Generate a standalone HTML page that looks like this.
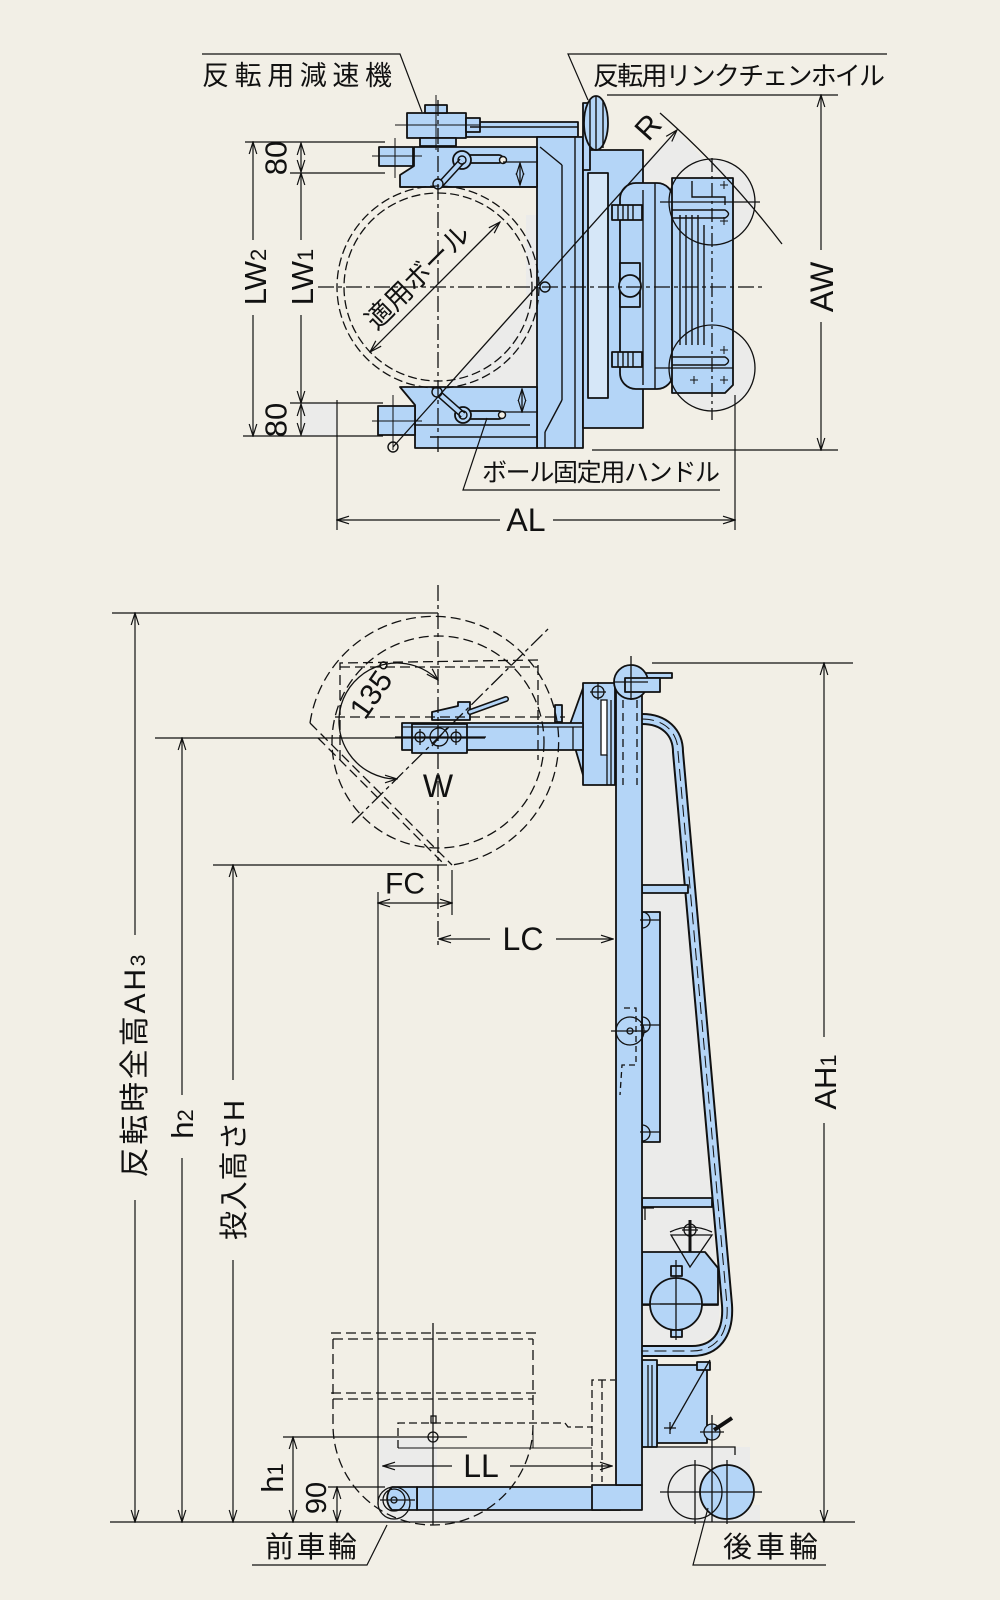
<!DOCTYPE html>
<html><head><meta charset="utf-8">
<style>
html,body{margin:0;padding:0;background:#f2efe6;}
svg{display:block;}
text{font-family:"Liberation Sans","Noto Sans CJK JP",sans-serif;fill:#111;}
.j{font-family:"Liberation Sans","Noto Sans CJK JP",sans-serif;}
</style></head><body>
<svg width="1000" height="1600" viewBox="0 0 1000 1600" xmlns="http://www.w3.org/2000/svg">
<defs>
<marker id="a" markerUnits="userSpaceOnUse" markerWidth="14" markerHeight="10" refX="13" refY="5" orient="auto-start-reverse"><path d="M1,1.2 L13,5 L1,8.8" fill="none" stroke="#111" stroke-width="1.2"/></marker>
</defs>
<rect width="1000" height="1600" fill="#f2efe6"/>

<!-- ============ TOP VIEW ============ -->
<g fill="#ebebea" stroke="none">
<polygon points="447,387 537,387 537,286"/>
<rect x="526" y="215" width="11" height="80"/>
<polygon points="627,180 677,130 724,180"/>
<circle cx="712" cy="202" r="43"/>
<circle cx="712" cy="368" r="43"/>
<rect x="302" y="403" width="35" height="33"/>
</g>

<g fill="#b4d5f7" stroke="#111" stroke-width="1.8" stroke-linejoin="round">
<rect x="466" y="122" width="112" height="15"/>
<rect x="537" y="137" width="46" height="311"/>
<rect x="583" y="150" width="60" height="278"/>
<rect x="620" y="183" width="53" height="206" rx="16"/>
<polygon points="672,178 733,178 733,385 725,393 672,393"/>
<polygon points="400,187 400,175 414,166 414,147 537,147 537,187"/>
<polygon points="400,387 537,387 537,448 415,448 415,405"/>
<rect x="407" y="113" width="59" height="25"/>
<rect x="425" y="105" width="22" height="8"/>
<rect x="420" y="138" width="36" height="8"/>
<rect x="466" y="118" width="14" height="14"/>
<rect x="379" y="147" width="34" height="19"/>
<rect x="378" y="406" width="37" height="29"/>
<rect x="583" y="103" width="7" height="67"/>
<ellipse cx="596" cy="123" rx="12" ry="27"/>
<rect x="588" y="173" width="20" height="225" fill="#d6e7f8"/>
<rect x="612" y="205" width="30" height="15"/>
<rect x="612" y="352" width="30" height="15"/>
<rect x="620" y="263" width="20" height="44"/>
<circle cx="630" cy="286" r="11"/>
<rect x="462" y="155" width="41" height="8" rx="4"/>
<rect x="463" y="411" width="40" height="8" rx="4"/>
<circle cx="462" cy="160" r="9"/>
<circle cx="463" cy="415" r="8"/>
</g>
<g fill="none" stroke="#111" stroke-width="1.4">
<line x1="540" y1="147" x2="562" y2="165"/>
<line x1="562" y1="165" x2="562" y2="400"/>
<line x1="562" y1="400" x2="545" y2="432"/>
<line x1="545" y1="432" x2="545" y2="448"/>
<line x1="575" y1="137" x2="575" y2="448"/>
<line x1="400" y1="187" x2="537" y2="187"/>
<line x1="414" y1="425" x2="530" y2="425"/>
<line x1="430" y1="437" x2="537" y2="437"/>
<line x1="470" y1="127" x2="578" y2="127"/>
<line x1="596" y1="96" x2="596" y2="150"/>
<line x1="590" y1="100" x2="590" y2="148"/>
<line x1="603" y1="100" x2="603" y2="148"/>
<line x1="643" y1="190" x2="643" y2="385"/>
<line x1="655" y1="183" x2="655" y2="389"/>
<line x1="680" y1="215" x2="680" y2="345"/>
<line x1="686" y1="215" x2="686" y2="345"/>
<line x1="692" y1="215" x2="692" y2="345"/>
<line x1="698" y1="215" x2="698" y2="345"/>
<line x1="704" y1="225" x2="704" y2="345"/>
<path d="M672,210 L725,210 Q732,214 725,218 L672,218"/>
<path d="M672,357 L725,357 Q732,361 725,365 L672,365"/>
<path d="M692,181 L692,197 L725,197 L725,205"/>
<line x1="618" y1="205" x2="618" y2="220"/><line x1="623" y1="205" x2="623" y2="220"/><line x1="628" y1="205" x2="628" y2="220"/><line x1="633" y1="205" x2="633" y2="220"/>
<line x1="618" y1="352" x2="618" y2="367"/><line x1="623" y1="352" x2="623" y2="367"/><line x1="628" y1="352" x2="628" y2="367"/><line x1="633" y1="352" x2="633" y2="367"/>
<line x1="440" y1="185" x2="462" y2="161" stroke-width="7"/>
<line x1="440" y1="185" x2="462" y2="161" stroke="#b4d5f7" stroke-width="4"/>
<line x1="437" y1="392" x2="463" y2="415" stroke-width="7"/>
<line x1="437" y1="392" x2="463" y2="415" stroke="#b4d5f7" stroke-width="4"/>
<circle cx="438" cy="184" r="5" fill="#b4d5f7"/>
<circle cx="437" cy="392" r="5" fill="#b4d5f7"/>
<circle cx="503" cy="160" r="3.5" fill="#f2efe6"/>
<circle cx="502" cy="415" r="3.5" fill="#f2efe6"/>
<circle cx="462" cy="160" r="4"/>
<circle cx="463" cy="415" r="4"/>
<circle cx="393" cy="447" r="5"/>
<circle cx="545" cy="287" r="5"/>
<line x1="395" y1="138" x2="395" y2="178" stroke-width="1"/>
<line x1="372" y1="156" x2="422" y2="156" stroke-width="1"/>
<line x1="393" y1="395" x2="393" y2="450" stroke-width="1"/>
<line x1="372" y1="421" x2="422" y2="421" stroke-width="1"/>
<line x1="436" y1="95" x2="436" y2="150" stroke-width="1"/>
<line x1="395" y1="125" x2="480" y2="125" stroke-width="1"/>
</g>

<g fill="none" stroke="#111" stroke-width="1.3">
<circle cx="712" cy="202" r="43"/>
<circle cx="712" cy="368" r="43"/>
<line x1="712" y1="158" x2="712" y2="420" stroke-dasharray="14 4 3 4"/>
<line x1="660" y1="202" x2="760" y2="202"/>
<line x1="655" y1="368" x2="733" y2="368"/>
<path d="M720,185 h8 M724,181 v8 M720,221 h8 M724,217 v8 M690,380 h8 M694,376 v8 M720,380 h8 M724,376 v8 M720,350 h8 M724,346 v8" stroke-width="1"/>
</g>

<g fill="none" stroke="#111" stroke-width="1.3">
<circle cx="438" cy="287" r="101" stroke-dasharray="9 4"/>
<circle cx="438" cy="287" r="94" stroke-dasharray="9 4"/>
<line x1="318" y1="287" x2="765" y2="287" stroke-dasharray="16 4 4 4"/>
<line x1="438" y1="100" x2="438" y2="452" stroke-dasharray="16 4 4 4"/>
<line x1="500" y1="222" x2="370" y2="352" marker-start="url(#a)" marker-end="url(#a)"/>
<line x1="393" y1="447" x2="677" y2="130" marker-end="url(#a)"/>
<path d="M660,113 Q727,172 782,244"/>
<line x1="520" y1="163" x2="520" y2="185" marker-start="url(#a)" marker-end="url(#a)"/>
<line x1="522" y1="389" x2="522" y2="412" marker-start="url(#a)" marker-end="url(#a)"/>
<line x1="503" y1="162" x2="537" y2="162"/>
<line x1="503" y1="412" x2="537" y2="412"/>
</g>

<g fill="none" stroke="#111" stroke-width="1.2">
<line x1="245" y1="142" x2="385" y2="142"/>
<line x1="290" y1="173" x2="385" y2="173"/>
<line x1="290" y1="403" x2="383" y2="403"/>
<line x1="243" y1="436" x2="383" y2="436"/>
<line x1="253" y1="142" x2="253" y2="240" marker-start="url(#a)"/>
<line x1="253" y1="315" x2="253" y2="436" marker-end="url(#a)"/>
<line x1="301" y1="173" x2="301" y2="240" marker-start="url(#a)"/>
<line x1="301" y1="315" x2="301" y2="403" marker-end="url(#a)"/>
<line x1="301" y1="143" x2="301" y2="172" marker-start="url(#a)" marker-end="url(#a)"/>
<line x1="301" y1="404" x2="301" y2="435" marker-start="url(#a)" marker-end="url(#a)"/>
<line x1="607" y1="95" x2="838" y2="95"/>
<line x1="592" y1="450" x2="838" y2="450"/>
<line x1="821" y1="95" x2="821" y2="250" marker-start="url(#a)"/>
<line x1="821" y1="322" x2="821" y2="450" marker-end="url(#a)"/>
<line x1="337" y1="400" x2="337" y2="530"/>
<line x1="735" y1="395" x2="735" y2="530"/>
<line x1="337" y1="520" x2="500" y2="520" marker-start="url(#a)"/>
<line x1="553" y1="520" x2="735" y2="520" marker-end="url(#a)"/>
<polyline points="202,54 400,54 422,112"/>
<polyline points="887,54 568,54 588,100"/>
<polyline points="720,490 463,490 487,418"/>
</g>

<text x="202" y="85" font-size="27" textLength="190" class="j">反転用減速機</text>
<text x="593" y="85" font-size="26" textLength="292" class="j">反転用リンクチェンホイル</text>
<text x="482" y="481" font-size="25" textLength="238" class="j">ボール固定用ハンドル</text>
<text transform="translate(418,277) rotate(-45)" font-size="27" text-anchor="middle" dominant-baseline="central" class="j">適用ボール</text>
<text transform="translate(648,127) rotate(-48)" font-size="31" text-anchor="middle" dominant-baseline="central">R</text>
<text transform="translate(255,277) rotate(-90)" y="11" font-size="31" text-anchor="middle">LW<tspan font-size="22">2</tspan></text>
<text transform="translate(302,277) rotate(-90)" y="11" font-size="31" text-anchor="middle">LW<tspan font-size="22">1</tspan></text>
<text transform="translate(276,158) rotate(-90)" font-size="31" text-anchor="middle" dominant-baseline="central">80</text>
<text transform="translate(276,420) rotate(-90)" font-size="31" text-anchor="middle" dominant-baseline="central">80</text>
<text transform="translate(822,287) rotate(-90)" font-size="32" text-anchor="middle" dominant-baseline="central">AW</text>
<text x="526" y="520" font-size="32" text-anchor="middle" dominant-baseline="central">AL</text>

<!-- ============ SIDE VIEW ============ -->
<g fill="#ebebea" stroke="none">
<polygon points="642,725 662,727 672,745 720,1305 718,1335 692,1345 642,1345"/>
<rect x="380" y="1438" width="57" height="84"/>
<rect x="380" y="1505" width="380" height="17"/>
<rect x="642" y="1447" width="108" height="75"/>
</g>

<path d="M642,719 C664,719 678,732 678,752 L727,1305 C729,1335 715,1351 692,1351 L642,1351" fill="none" stroke="#111" stroke-width="12"/>
<path d="M642,719 C664,719 678,732 678,752 L727,1305 C729,1335 715,1351 692,1351 L642,1351" fill="none" stroke="#b4d5f7" stroke-width="8"/>
<path d="M642,719 C664,719 678,732 678,752 L727,1305 C729,1335 715,1351 692,1351 L642,1351" fill="none" stroke="#111" stroke-width="1" stroke-dasharray="12 6"/>

<g fill="#b4d5f7" stroke="#111" stroke-width="1.8" stroke-linejoin="round">
<rect x="642" y="885" width="46" height="8"/>
<rect x="642" y="1198" width="70" height="9"/>
<rect x="642" y="912" width="18" height="230"/>
<polygon points="642,1252 705,1252 718,1268 718,1305 642,1305"/>
<circle cx="676" cy="1304" r="26"/>
<rect x="671" y="1266" width="11" height="10"/>
<rect x="671" y="1330" width="11" height="7"/>
<rect x="657" y="1365" width="50" height="78"/>
<rect x="697" y="1362" width="13" height="8"/>
<rect x="642" y="1360" width="15" height="87"/>
<circle cx="727" cy="1492" r="27"/>
<rect x="417" y="1487" width="203" height="23"/>
<rect x="592" y="1485" width="50" height="25"/>
<path d="M417,1487 L392,1487 A16,16 0 0 0 392,1510 L417,1510 Z"/>
<polygon points="583,688 569,727 583,775"/>
<rect x="583" y="683" width="32" height="102"/>
<rect x="402" y="723" width="181" height="27"/>
<rect x="412" y="724" width="55" height="29"/>
<polygon points="432,712 458,706 458,702 470,702 470,720 432,720"/>
<rect x="555" y="705" width="7" height="17"/>
<rect x="616" y="683" width="26" height="802"/>
<rect x="622" y="673" width="50" height="5"/>
<circle cx="631" cy="682" r="17"/>
<rect x="625" y="678" width="35" height="14"/>
</g>
<g fill="none" stroke="#111" stroke-width="1.3">
<line x1="470" y1="712" x2="506" y2="699" stroke-width="6" stroke-linecap="round"/>
<line x1="470" y1="712" x2="506" y2="699" stroke="#b4d5f7" stroke-width="3" stroke-linecap="round"/>
<line x1="402" y1="727" x2="583" y2="727"/>
<line x1="573" y1="727" x2="573" y2="750"/>
<circle cx="420" cy="737" r="5"/><line x1="420" y1="729" x2="420" y2="745"/>
<circle cx="439" cy="737" r="9"/><line x1="432" y1="746" x2="447" y2="728"/>
<circle cx="456" cy="737" r="5"/><line x1="456" y1="729" x2="456" y2="745"/>
<line x1="395" y1="737" x2="486" y2="737"/>
<circle cx="598" cy="692" r="6"/><line x1="590" y1="692" x2="606" y2="692"/><line x1="598" y1="682" x2="598" y2="700"/>
<rect x="601" y="700" width="6" height="55" fill="#fff"/>
<line x1="607" y1="755" x2="607" y2="785"/><line x1="611" y1="700" x2="611" y2="785"/>
<line x1="623" y1="700" x2="623" y2="785" stroke-dasharray="8 5"/>
<line x1="637" y1="700" x2="637" y2="785" stroke-dasharray="8 5"/>
<line x1="631" y1="656" x2="631" y2="700"/><line x1="614" y1="682" x2="648" y2="682"/>
<path d="M642,912 a8,8 0 0 1 0,16 M642,1017 a8,8 0 0 1 0,16 M642,1125 a8,8 0 0 1 0,16"/>
<line x1="640" y1="920" x2="660" y2="920"/><line x1="640" y1="1025" x2="660" y2="1025"/><line x1="640" y1="1132" x2="660" y2="1132"/>
<circle cx="630" cy="1031" r="14"/><circle cx="630" cy="1031" r="3"/>
<line x1="611" y1="1031" x2="647" y2="1031"/>
<path d="M624,1008 L636,1008 L636,1065 L622,1065 L620,1095" stroke-dasharray="6 4"/>
<path d="M643,1208 L654,1208 M645,1208 L645,1220"/>
<polygon points="671,1235 712,1235 690,1267" fill="none"/>
<circle cx="690" cy="1230" r="6"/><line x1="682" y1="1230" x2="698" y2="1230"/>
<line x1="690" y1="1220" x2="690" y2="1252" stroke-width="3"/>
<path d="M670,1232 Q690,1222 712,1232"/>
<line x1="660" y1="1304" x2="700" y2="1304"/><line x1="676" y1="1260" x2="676" y2="1340"/>
<line x1="642" y1="1304" x2="718" y2="1304"/>
<line x1="648" y1="1365" x2="648" y2="1447"/><line x1="652" y1="1365" x2="652" y2="1447"/>
<line x1="710" y1="1360" x2="670" y2="1430"/>
<path d="M664,1428 h12 M670,1422 v12"/>
<circle cx="712" cy="1432" r="8" fill="#b4d5f7"/>
<line x1="712" y1="1415" x2="712" y2="1522"/>
<line x1="700" y1="1432" x2="724" y2="1432"/>
<line x1="714" y1="1430" x2="732" y2="1418" stroke-width="4"/>
<path d="M642,1447 L735,1447 L735,1455"/>
<circle cx="695" cy="1492" r="27"/>
<line x1="660" y1="1492" x2="762" y2="1492"/>
<line x1="695" y1="1460" x2="695" y2="1524"/>
<line x1="727" y1="1460" x2="727" y2="1524"/>
<circle cx="394" cy="1503" r="16"/>
<circle cx="394" cy="1500" r="11"/>
<circle cx="394" cy="1500" r="3"/>
<line x1="380" y1="1500" x2="415" y2="1500"/>
</g>

<g fill="none" stroke="#111" stroke-width="1.3">
<path d="M310,723 A125,125 0 1 1 452,865" stroke-dasharray="10 5"/>
<circle cx="438" cy="742" r="106" stroke-dasharray="10 5"/>
<line x1="310" y1="723" x2="452" y2="865" stroke-dasharray="10 5"/>
<line x1="318" y1="738" x2="445" y2="865" stroke-dasharray="10 5"/>
<path d="M340,760 L340,663 L538,660 L538,760" stroke-dasharray="10 5"/>
<line x1="340" y1="667" x2="538" y2="667" stroke-dasharray="10 5"/>
<line x1="335" y1="717" x2="565" y2="717" stroke-dasharray="10 5"/>
<line x1="352" y1="823" x2="548" y2="629" stroke-dasharray="16 4 4 4"/>
<line x1="438" y1="585" x2="438" y2="945" stroke-dasharray="16 4 4 4"/>
<path d="M438,680 A58,58 0 1 0 397,779" marker-start="url(#a)" marker-end="url(#a)"/>
<line x1="331" y1="1333" x2="537" y2="1333" stroke-dasharray="10 5"/>
<line x1="333" y1="1339" x2="533" y2="1339" stroke-dasharray="10 5"/>
<line x1="331" y1="1393" x2="537" y2="1393" stroke-dasharray="10 5"/>
<line x1="333" y1="1399" x2="533" y2="1399" stroke-dasharray="10 5"/>
<path d="M333,1339 L333,1425 A100,100 0 0 0 533,1425 L533,1339" stroke-dasharray="10 5"/>
<line x1="433" y1="1323" x2="433" y2="1525"/>
<path d="M398,1448 L398,1423 L565,1423 L568,1427 L592,1427" stroke-dasharray="8 4"/>
<path d="M398,1448 L592,1448 M533,1427 L533,1448" stroke-width="1"/>
<path d="M592,1482 L592,1380 L615,1380 M602,1380 L602,1482" stroke-dasharray="8 4"/>
<rect x="431" y="1416" width="5" height="7"/>
<circle cx="433" cy="1437" r="5"/>
</g>

<g fill="none" stroke="#111" stroke-width="1.2">
<line x1="110" y1="1522" x2="855" y2="1522"/>
<line x1="112" y1="613" x2="438" y2="613"/>
<line x1="155" y1="738" x2="485" y2="738"/>
<line x1="213" y1="865" x2="447" y2="865"/>
<line x1="652" y1="663" x2="853" y2="663"/>
<line x1="135" y1="613" x2="135" y2="935" marker-start="url(#a)"/>
<line x1="135" y1="1200" x2="135" y2="1522" marker-end="url(#a)"/>
<line x1="182" y1="738" x2="182" y2="1095" marker-start="url(#a)"/>
<line x1="182" y1="1158" x2="182" y2="1522" marker-end="url(#a)"/>
<line x1="233" y1="865" x2="233" y2="1080" marker-start="url(#a)"/>
<line x1="233" y1="1260" x2="233" y2="1522" marker-end="url(#a)"/>
<line x1="824" y1="663" x2="824" y2="1037" marker-start="url(#a)"/>
<line x1="824" y1="1123" x2="824" y2="1522" marker-end="url(#a)"/>
<line x1="283" y1="1437" x2="467" y2="1437"/>
<line x1="293" y1="1437" x2="293" y2="1522" marker-start="url(#a)" marker-end="url(#a)"/>
<line x1="328" y1="1487" x2="385" y2="1487"/>
<line x1="337" y1="1487" x2="337" y2="1522" marker-start="url(#a)" marker-end="url(#a)"/>
<line x1="378" y1="892" x2="378" y2="1505"/>
<line x1="452" y1="870" x2="452" y2="915"/>
<line x1="378" y1="903" x2="452" y2="903" marker-start="url(#a)" marker-end="url(#a)"/>
<line x1="439" y1="939" x2="490" y2="939" marker-start="url(#a)"/>
<line x1="556" y1="939" x2="613" y2="939" marker-end="url(#a)"/>
<line x1="383" y1="1466" x2="452" y2="1466" marker-start="url(#a)"/>
<line x1="510" y1="1466" x2="612" y2="1466" marker-end="url(#a)"/>
<polyline points="252,1565 367,1565 387,1525"/>
<polyline points="826,1565 693,1565 708,1508"/>
</g>

<text transform="translate(375,690) rotate(-55)" font-size="30" text-anchor="middle" dominant-baseline="central">135°</text>
<text x="438" y="786" font-size="32" text-anchor="middle" dominant-baseline="central">W</text>
<text x="405" y="884" font-size="30" text-anchor="middle" dominant-baseline="central">FC</text>
<text x="523" y="939" font-size="32" text-anchor="middle" dominant-baseline="central">LC</text>
<text x="481" y="1466" font-size="32" text-anchor="middle" dominant-baseline="central">LL</text>
<text transform="translate(134,1066) rotate(-90)" y="11" font-size="30" text-anchor="middle" textLength="223" class="j">反転時全高AH<tspan font-size="21">3</tspan></text>
<text transform="translate(182,1124) rotate(-90)" y="11" font-size="31" text-anchor="middle">h<tspan font-size="22">2</tspan></text>
<text transform="translate(233,1170) rotate(-90)" y="11" font-size="29" text-anchor="middle" textLength="140" class="j">投入高さH</text>
<text transform="translate(825,1082) rotate(-90)" y="11" font-size="31" text-anchor="middle">AH<tspan font-size="22">1</tspan></text>
<text transform="translate(272,1478) rotate(-90)" y="11" font-size="31" text-anchor="middle">h<tspan font-size="22">1</tspan></text>
<text transform="translate(317,1498) rotate(-90)" font-size="29" text-anchor="middle" dominant-baseline="central">90</text>
<text x="265" y="1557" font-size="29" textLength="92" class="j">前車輪</text>
<text x="723" y="1557" font-size="29" textLength="95" class="j">後車輪</text>
</svg>
</body></html>
